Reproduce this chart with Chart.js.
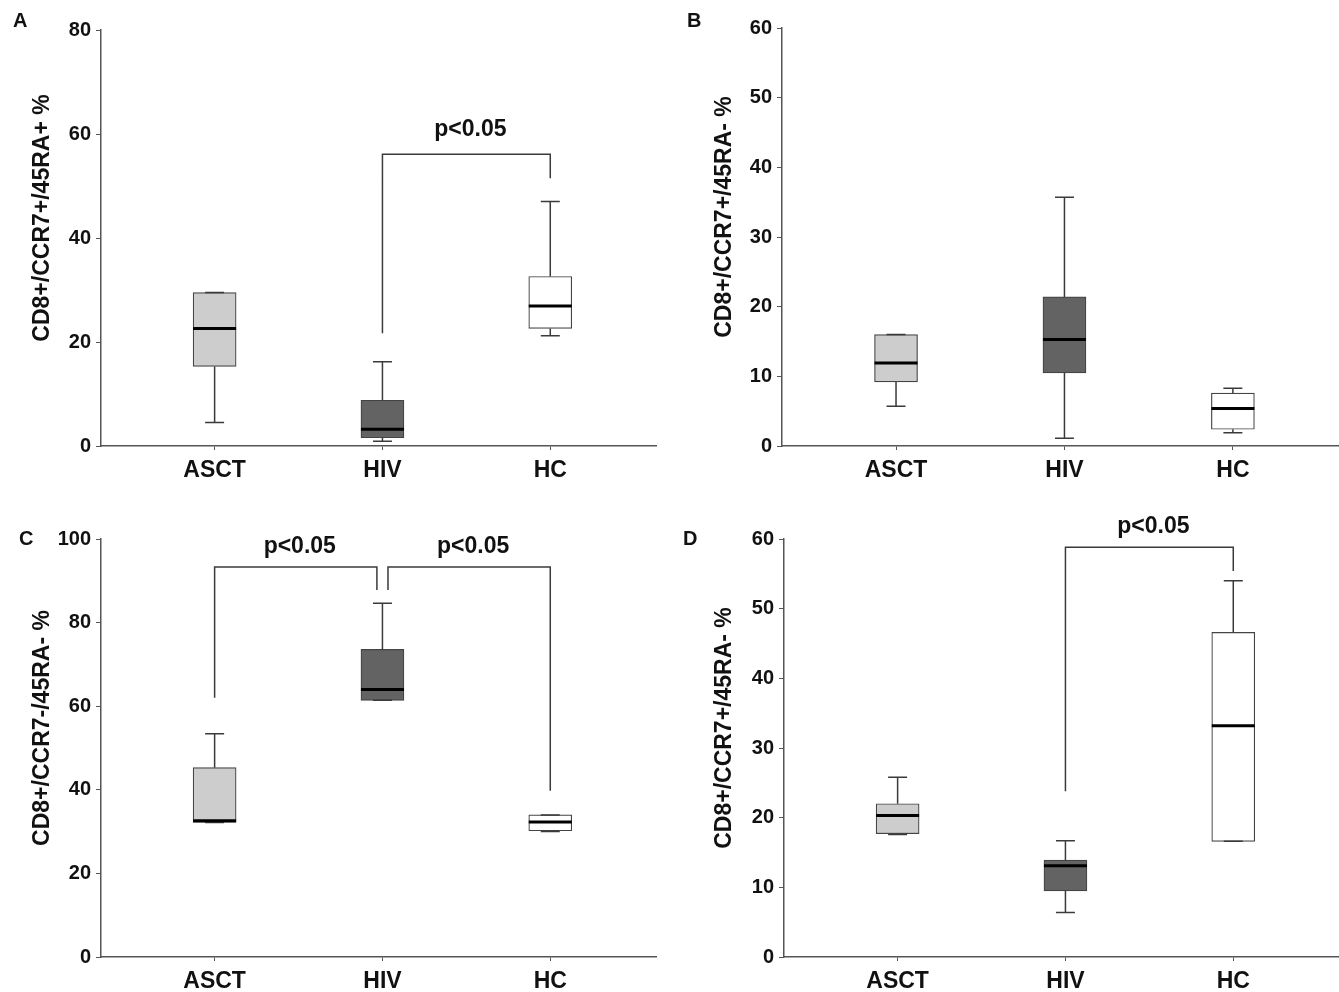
<!DOCTYPE html>
<html>
<head>
<meta charset="utf-8">
<script src="https://cdn.jsdelivr.net/npm/chart.js@4.4.1/dist/chart.umd.min.js"></script>
<style>
  body { margin: 0; background: #fff; overflow: hidden; width: 1339px; height: 992px; position: relative; }
  .panel { position: absolute; }
</style>
</head>
<body>
<div class="panel" style="left:0;top:0;width:670px;height:496px"><canvas id="chartA"></canvas></div>
<div class="panel" style="left:670px;top:0;width:669px;height:496px"><canvas id="chartB"></canvas></div>
<div class="panel" style="left:0;top:496px;width:670px;height:520px"><canvas id="chartC"></canvas></div>
<div class="panel" style="left:670px;top:496px;width:669px;height:520px"><canvas id="chartD"></canvas></div>
<script>
// Groups on the x axis
const groups = ['ASCT', 'HIV', 'HC'];

// Panel A: CD8+/CCR7+/45RA+ %
const minA = [4.5, 0.9, 21.2];
const q1A = [15.3, 1.6, 22.6];
const medianA = [22.6, 3.2, 26.9];
const q3A = [29.5, 8.8, 32.6];
const maxA = [29.5, 16.2, 47.0];
const yTicksA = [0, 20, 40, 60, 80];

// Panel B: CD8+/CCR7+/45RA- %
const minB = [5.7, 1.1, 1.9];
const q1B = [9.2, 10.5, 2.4];
const medianB = [11.9, 15.3, 5.4];
const q3B = [16.0, 21.4, 7.6];
const maxB = [16.0, 35.7, 8.3];
const yTicksB = [0, 10, 20, 30, 40, 50, 60];

// Panel C: CD8+/CCR7-/45RA- %
const minC = [32.2, 61.4, 30.0];
const q1C = [32.2, 61.4, 30.2];
const medianC = [32.6, 64.0, 32.3];
const q3C = [45.3, 73.6, 34.0];
const maxC = [53.4, 84.6, 34.0];
const yTicksC = [0, 20, 40, 60, 80, 100];

// Panel D: CD8+/CCR7+/45RA- %
const minD = [17.6, 6.4, 16.6];
const q1D = [17.7, 9.5, 16.6];
const medianD = [20.3, 13.1, 33.2];
const q3D = [22.0, 13.9, 46.6];
const maxD = [25.8, 16.7, 54.0];
const yTicksD = [0, 10, 20, 30, 40, 50, 60];

// Significance brackets: [from group, to group, left foot, top, right foot, label y]
const bracketsA = [[1, 2, 21.7, 56.1, 51.5, 59.6]];
const bracketsB = [];
const bracketsC = [[0, 0.967, 62.0, 93.3, 87.8, 96.7], [1.033, 2, 87.8, 93.3, 39.8, 96.7]];
const bracketsD = [[1, 2, 23.8, 58.8, 55.4, 60.9]];
const pLabel = 'p<0.05';

const boxFill = ['#cdcdcd', '#636363', '#ffffff'];
const lineColor = '#3a3a3a';
const fontFamily = "'Liberation Sans', Arial, sans-serif";

// Draws whiskers, medians, brackets, axis title and the panel letter
const boxPlotExtras = {
    id: 'boxPlotExtras',
    afterDatasetsDraw(chart, args, opts) {
        const ctx = chart.ctx;
        const x = chart.scales.x;
        const y = chart.scales.y;
        const half = 21.5;
        const cap = 9.5;
        ctx.save();
        ctx.strokeStyle = lineColor;
        ctx.lineWidth = 1.5;
        groups.forEach((g, i) => {
            const cx = x.getPixelForValue(i);
            ctx.beginPath();
            ctx.moveTo(cx, y.getPixelForValue(opts.q3[i]));
            ctx.lineTo(cx, y.getPixelForValue(opts.max[i]));
            ctx.moveTo(cx - cap, y.getPixelForValue(opts.max[i]));
            ctx.lineTo(cx + cap, y.getPixelForValue(opts.max[i]));
            ctx.moveTo(cx, y.getPixelForValue(opts.q1[i]));
            ctx.lineTo(cx, y.getPixelForValue(opts.min[i]));
            ctx.moveTo(cx - cap, y.getPixelForValue(opts.min[i]));
            ctx.lineTo(cx + cap, y.getPixelForValue(opts.min[i]));
            ctx.stroke();
        });
        ctx.strokeStyle = '#000';
        ctx.lineWidth = 3;
        groups.forEach((g, i) => {
            const cx = x.getPixelForValue(i);
            const my = y.getPixelForValue(opts.median[i]);
            ctx.beginPath();
            ctx.moveTo(cx - half, my);
            ctx.lineTo(cx + half, my);
            ctx.stroke();
        });
        // brackets
        ctx.strokeStyle = lineColor;
        ctx.lineWidth = 1.5;
        ctx.fillStyle = '#111';
        ctx.font = 'bold 23px ' + fontFamily;
        ctx.textAlign = 'center';
        ctx.textBaseline = 'alphabetic';
        opts.brackets.forEach(b => {
            const x1 = x.getPixelForValue(b[0]);
            const x2 = x.getPixelForValue(b[1]);
            const top = y.getPixelForValue(b[3]);
            ctx.beginPath();
            ctx.moveTo(x1, y.getPixelForValue(b[2]));
            ctx.lineTo(x1, top);
            ctx.lineTo(x2, top);
            ctx.lineTo(x2, y.getPixelForValue(b[4]));
            ctx.stroke();
            ctx.fillText(pLabel, (x1 + x2) / 2 + 4, y.getPixelForValue(b[5]));
        });
        // y axis title, sits a little above the middle of the axis
        const area = chart.chartArea;
        ctx.save();
        ctx.translate(opts.titleX, (area.top + area.bottom) / 2 - 20);
        ctx.rotate(-Math.PI / 2);
        ctx.textBaseline = 'middle';
        ctx.font = 'bold 23px ' + fontFamily;
        ctx.fillText(opts.title, 0, 0);
        ctx.restore();
        // panel letter
        ctx.textAlign = 'left';
        ctx.font = 'bold 20px ' + fontFamily;
        ctx.fillText(opts.letter, opts.letterX, opts.letterY);
        ctx.restore();
    }
};

function makePanel(id, p) {
    const ctx = document.getElementById(id).getContext('2d');
    return new Chart(ctx, {
        type: 'bar',
        data: {
            datasets: [{
                data: groups.map((g, i) => ({ x: i, y: [p.q1[i], p.q3[i]] })),
                backgroundColor: boxFill,
                borderColor: '#444',
                borderWidth: 1.2,
                borderSkipped: false,
                barThickness: 43
            }]
        },
        options: {
            responsive: true,
            maintainAspectRatio: false,
            animation: false,
            layout: { padding: { left: 0, top: p.top, right: p.right, bottom: 0 } },
            plugins: {
                legend: { display: false },
                tooltip: { enabled: false },
                boxPlotExtras: p
            },
            scales: {
                x: {
                    type: 'linear',
                    offset: false,
                    min: -0.677,
                    max: 2.63,
                    afterBuildTicks: s => { s.ticks = groups.map((g, i) => ({ value: i })); },
                    afterFit: s => { s.height = p.xHeight; },
                    grid: { display: true, offset: false, drawOnChartArea: false, drawTicks: true, tickLength: 4, color: '#555' },
                    border: { display: true, color: '#555', width: 1.5 },
                    ticks: {
                        padding: 7,
                        color: '#111',
                        font: { family: fontFamily, size: 23, weight: 'bold' },
                        callback: v => groups[v]
                    }
                },
                y: {
                    min: 0,
                    max: p.yTicks[p.yTicks.length - 1],
                    afterBuildTicks: s => { s.ticks = p.yTicks.map(v => ({ value: v })); },
                    afterFit: s => { s.width = p.left; },
                    grid: { display: true, drawOnChartArea: false, drawTicks: true, tickLength: 5, color: '#555' },
                    border: { display: true, color: '#555', width: 1.5 },
                    ticks: {
                        padding: 5,
                        color: '#111',
                        font: { family: fontFamily, size: 20, weight: 'bold' }
                    }
                }
            }
        },
        plugins: [boxPlotExtras]
    });
}

makePanel('chartA', {
    min: minA, q1: q1A, median: medianA, q3: q3A, max: maxA, yTicks: yTicksA, brackets: bracketsA,
    title: 'CD8+/CCR7+/45RA+ %', titleX: 43, letter: 'A', letterX: 13, letterY: 27,
    left: 101, top: 30, right: 14, xHeight: 50
});
makePanel('chartB', {
    min: minB, q1: q1B, median: medianB, q3: q3B, max: maxB, yTicks: yTicksB, brackets: bracketsB,
    title: 'CD8+/CCR7+/45RA- %', titleX: 55, letter: 'B', letterX: 17, letterY: 27,
    left: 112, top: 28, right: 0, xHeight: 50
});
makePanel('chartC', {
    min: minC, q1: q1C, median: medianC, q3: q3C, max: maxC, yTicks: yTicksC, brackets: bracketsC,
    title: 'CD8+/CCR7-/45RA- %', titleX: 43, letter: 'C', letterX: 19, letterY: 49,
    left: 101, top: 43, right: 14, xHeight: 59
});
makePanel('chartD', {
    min: minD, q1: q1D, median: medianD, q3: q3D, max: maxD, yTicks: yTicksD, brackets: bracketsD,
    title: 'CD8+/CCR7+/45RA- %', titleX: 55, letter: 'D', letterX: 13, letterY: 49,
    left: 114, top: 43, right: 0, xHeight: 59
});
</script>
</body>
</html>
